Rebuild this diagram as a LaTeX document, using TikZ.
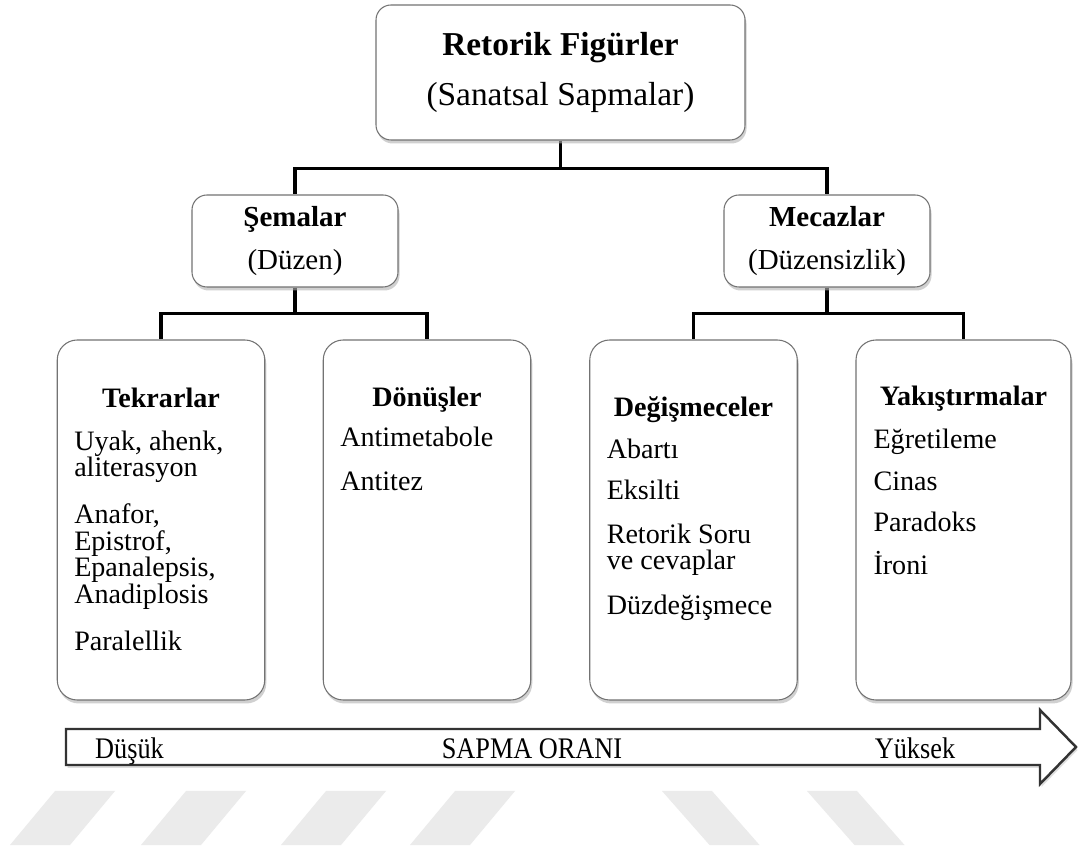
\documentclass[tikz,border=0pt]{standalone}
\usepackage{fontspec}
\setmainfont{Liberation Serif}
\newfontfamily\narrowfont[FakeStretch=0.88]{Liberation Serif}
\usetikzlibrary{shadows}
\pgfdeclarelayer{edgelayer}
\pgfdeclarelayer{nodelayer}
\pgfsetlayers{edgelayer,nodelayer,main}
\tikzstyle{none}=[inner sep=0pt]
\tikzstyle{edge}=[draw=black, line width=2.2pt]
\tikzstyle{card}=[rectangle, rounded corners=0.3cm, draw=black!55, line width=0.6pt, fill=white, drop shadow={shadow xshift=0.03cm, shadow yshift=-0.07cm, fill=black!30, opacity=0.6}]
\tikzstyle{mid}=[card, minimum width=4.12cm, minimum height=1.84cm, align=center, font=\fontsize{16.5}{24}\selectfont]
\tikzstyle{tall}=[card, rounded corners=0.4cm, minimum width=4.15cm, minimum height=7.2cm]
\tikzstyle{list}=[none, anchor=north, align=flush left, text width=3.47cm, font=\fontsize{16}{15}\selectfont]
\tikzstyle{scale label}=[none, anchor=base, font=\narrowfont\fontsize{17}{20}\selectfont]
\tikzstyle{stripe}=[fill=black!8]

\begin{document}
\begin{tikzpicture}
	\useasboundingbox (0,0) rectangle (21.6,16.92);
	\begin{pgfonlayer}{nodelayer}
		\node [style=card, minimum width=7.38cm, minimum height=2.7cm, align=center, font=\fontsize{19}{28}\selectfont] (1) at (11.21, 15.47) {\textbf{Retorik Figürler}\\(Sanatsal Sapmalar)};
		\node [style=mid] (2) at (5.9, 12.1) {\textbf{Şemalar}\\(Düzen)};
		\node [style=mid] (3) at (16.54, 12.1) {\textbf{Mecazlar}\\(Düzensizlik)};
		\node [style=tall] (4) at (3.22, 6.52) {};
		\node [style=tall] (5) at (8.54, 6.52) {};
		\node [style=tall] (6) at (13.87, 6.52) {};
		\node [style=tall, minimum width=4.3cm] (7) at (19.27, 6.52) {};
		\node [style=list] (8) at (3.22, 9.16) {\makebox[\hsize]{\bfseries Tekrarlar}\\[0.32cm]Uyak, ahenk,\\aliterasyon\\[0.42cm]Anafor,\\Epistrof,\\Epanalepsis,\\Anadiplosis\\[0.42cm]Paralellik};
		\node [style=list] (9) at (8.54, 9.18) {\makebox[\hsize]{\bfseries Dönüşler}\\[0.27cm]Antimetabole\\[0.34cm]Antitez};
		\node [style=list] (10) at (13.87, 9.0) {\makebox[\hsize]{\bfseries Değişmeceler}\\[0.32cm]Abartı\\[0.3cm]Eksilti\\[0.34cm]Retorik Soru\\ve cevaplar\\[0.38cm]Düzdeğişmece};
		\node [style=list, text width=3.6cm] (11) at (19.27, 9.2) {\makebox[\hsize]{\bfseries Yakıştırmalar}\\[0.32cm]Eğretileme\\[0.32cm]Cinas\\[0.3cm]Paradoks\\[0.32cm]İroni};
		\draw [line width=1.4pt, draw=black!80, fill=white, drop shadow={shadow xshift=0.03cm, shadow yshift=-0.06cm, fill=black!25, opacity=0.5}] (1.32, 2.34) -- (20.8, 2.34) -- (20.8, 2.72) -- (21.52, 1.98) -- (20.8, 1.24) -- (20.8, 1.62) -- (1.32, 1.62) -- cycle;
		\node [style=scale label] (12) at (2.59, 1.76) {Düşük};
		\node [style=scale label] (13) at (10.64, 1.76) {SAPMA ORANI};
		\node [style=scale label] (14) at (18.3, 1.76) {Yüksek};
	\end{pgfonlayer}
	\begin{pgfonlayer}{edgelayer}
		\fill [white] (0, 0) rectangle (21.6, 16.92);
		\foreach \x in {1.1, 3.72, 6.52, 9.1}
			\fill [style=stripe] (\x, 1.1) -- ++(1.2, 0) -- ++(-0.9, -1.08) -- ++(-1.2, 0) -- cycle;
		\foreach \x in {13.24, 16.14}
			\fill [style=stripe] (\x, 1.1) -- ++(1.0, 0) -- ++(0.95, -1.08) -- ++(-1.0, 0) -- cycle;
		\draw [style=edge] (1.south) -- ++(0, -0.56) -| (2.north);
		\draw [style=edge] (1.south) -- ++(0, -0.56) -| (3.north);
		\draw [style=edge] (2.south) -- ++(0, -0.52) -| (4.north);
		\draw [style=edge] (2.south) -- ++(0, -0.52) -| (5.north);
		\draw [style=edge] (3.south) -- ++(0, -0.52) -| (6.north);
		\draw [style=edge] (3.south) -- ++(0, -0.52) -| (7.north);
	\end{pgfonlayer}
\end{tikzpicture}
\end{document}
